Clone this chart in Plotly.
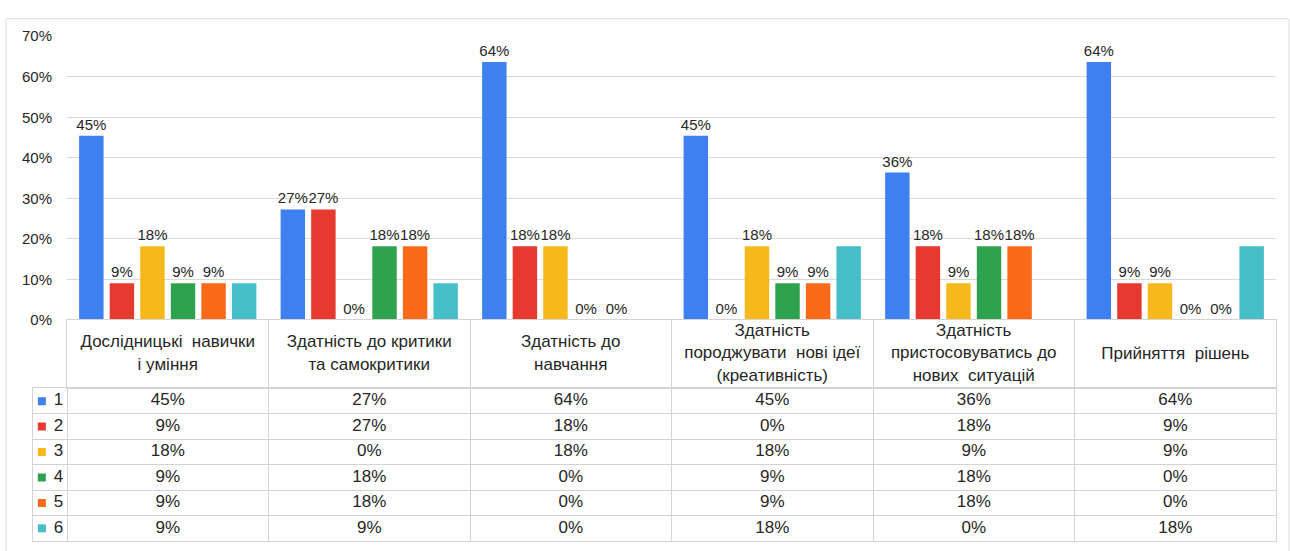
import plotly.graph_objects as go

W, H = 1290, 551

# ---- data ----
categories = [
    "Дослідницькі  навички<br>і уміння",
    "Здатність до критики<br>та самокритики",
    "Здатність до<br>навчання",
    "Здатність<br>породжувати  нові ідеї<br>(креативність)",
    "Здатність<br>пристосовуватись до<br>нових  ситуацій",
    "Прийняття  рішень",
]
series_names = ["1", "2", "3", "4", "5", "6"]
s1 = [45.45, 27.27, 63.64, 45.45, 36.36, 63.64]
s2 = [9.09, 27.27, 18.18, 0.0, 18.18, 9.09]
s3 = [18.18, 0.0, 18.18, 18.18, 9.09, 9.09]
s4 = [9.09, 18.18, 0.0, 9.09, 18.18, 0.0]
s5 = [9.09, 18.18, 0.0, 9.09, 18.18, 0.0]
s6 = [9.09, 9.09, 0.0, 18.18, 0.0, 18.18]
series_values = [s1, s2, s3, s4, s5, s6]
colors = ["#3f80f0", "#e6392f", "#f6b91c", "#2ea24e", "#fb6a19", "#45bec7"]
show_labels = [True, True, True, True, True, False]

FONT = "Arial, Liberation Sans, sans-serif"
GRID = "#d9d9d9"
LINE = "#d3d3d3"
TXT = "#262626"

def fx(px):
    return min(max(px / W, 0.0), 1.0)

def fy(py):
    return min(max(1 - py / H, 0.0), 1.0)

n = len(categories)
cat_w = (1276 - 67) / n
legend_w = (67 - 33) / cat_w

fig = go.Figure()

# bars
for name, vals, col, lab in zip(series_names, series_values, colors, show_labels):
    fig.add_trace(go.Bar(
        x=list(range(n)), y=vals, name=name, marker=dict(color=col, line=dict(width=0)),
        texttemplate="%{y:.0f}%" if lab else None,
        textposition="outside" if lab else "none",
        textfont=dict(size=15, color=TXT, family=FONT),
        constraintext="none", cliponaxis=False,
        xaxis="x", yaxis="y", hoverinfo="skip",
    ))

# header row text
fig.add_trace(go.Scatter(
    x=list(range(n)), y=[0.5] * n, text=categories, mode="text",
    textfont=dict(size=17, color=TXT, family=FONT), textposition="middle center",
    xaxis="x2", yaxis="y2", hoverinfo="skip", showlegend=False,
))

# data cells
cx, cy, ct = [], [], []
for r, vals in enumerate(series_values):
    for c, v in enumerate(vals):
        cx.append(c)
        cy.append(r)
        ct.append(f"{v:.0f}%")
fig.add_trace(go.Scatter(
    x=cx, y=cy, text=ct, mode="text",
    textfont=dict(size=17, color=TXT, family=FONT), textposition="middle center",
    xaxis="x3", yaxis="y3", hoverinfo="skip", showlegend=False,
))

# legend column: colored keys and series names
key_x = -0.5 - legend_w * 0.74
name_x = -0.5 - legend_w * 0.25
fig.add_trace(go.Scatter(
    x=[key_x] * len(series_names), y=list(range(len(series_names))), mode="markers",
    marker=dict(symbol="square", size=8, color=colors, line=dict(width=0)),
    xaxis="x3", yaxis="y3", hoverinfo="skip", showlegend=False,
))
fig.add_trace(go.Scatter(
    x=[name_x] * len(series_names), y=list(range(len(series_names))), text=series_names,
    mode="text", textfont=dict(size=17, color=TXT, family=FONT), textposition="middle center",
    xaxis="x3", yaxis="y3", hoverinfo="skip", showlegend=False,
))

bounds = [i + 0.5 for i in range(n - 1)]

fig.update_layout(
    width=W, height=H, autosize=False,
    margin=dict(l=0, r=0, t=0, b=0, pad=0),
    paper_bgcolor="white", plot_bgcolor="rgba(0,0,0,0)",
    showlegend=False, barmode="group", bargap=0.09, bargroupgap=0.2,
    font=dict(family=FONT, color=TXT),
    xaxis=dict(domain=[fx(67), fx(1276)], range=[-0.5, n - 0.5], anchor="y",
               showticklabels=False, showgrid=False, zeroline=False, showline=False, ticks=""),
    yaxis=dict(domain=[fy(321), fy(28)], range=[0, 70], dtick=10, ticksuffix="%",
               showgrid=True, gridcolor=GRID, gridwidth=1, zeroline=False, showline=False,
               tickfont=dict(size=15, color=TXT, family=FONT), ticks="", ticklabelstandoff=14,
               anchor="x"),
    xaxis2=dict(domain=[fx(67), fx(1276)], range=[-0.5, n - 0.5], anchor="y2",
                tickvals=bounds, showticklabels=False, ticks="", showgrid=True, gridcolor=LINE,
                zeroline=False, showline=True, mirror=True, linecolor=LINE),
    yaxis2=dict(domain=[fy(391.5), fy(321)], range=[0, 1], anchor="x2",
                showticklabels=False, showgrid=False, zeroline=False, ticks="",
                showline=True, mirror=True, linecolor=LINE),
    xaxis3=dict(domain=[fx(33), fx(1276)], range=[-0.5 - legend_w, n - 0.5], anchor="y3",
                tickvals=[-0.5] + bounds, showticklabels=False, ticks="", showgrid=True,
                gridcolor=LINE, zeroline=False, showline=True, mirror=True, linecolor=LINE),
    yaxis3=dict(domain=[fy(549), fy(391.5)], range=[len(series_names) - 0.5, -0.5], anchor="x3",
                tickvals=[i + 0.5 for i in range(len(series_names) - 1)], showticklabels=False,
                ticks="", showgrid=True, gridcolor=LINE, zeroline=False,
                showline=True, mirror=True, linecolor=LINE),
    shapes=[dict(type="rect", xref="paper", yref="paper", x0=fx(6), x1=fx(1289),
                 y0=-0.02, y1=fy(10), line=dict(color="#dcdcdc", width=1), layer="below")],
)

fig.write_html(
    "out.html", config={"displayModeBar": False},
    post_script="document.body.style.margin='0';document.documentElement.style.overflow='hidden';",
)
